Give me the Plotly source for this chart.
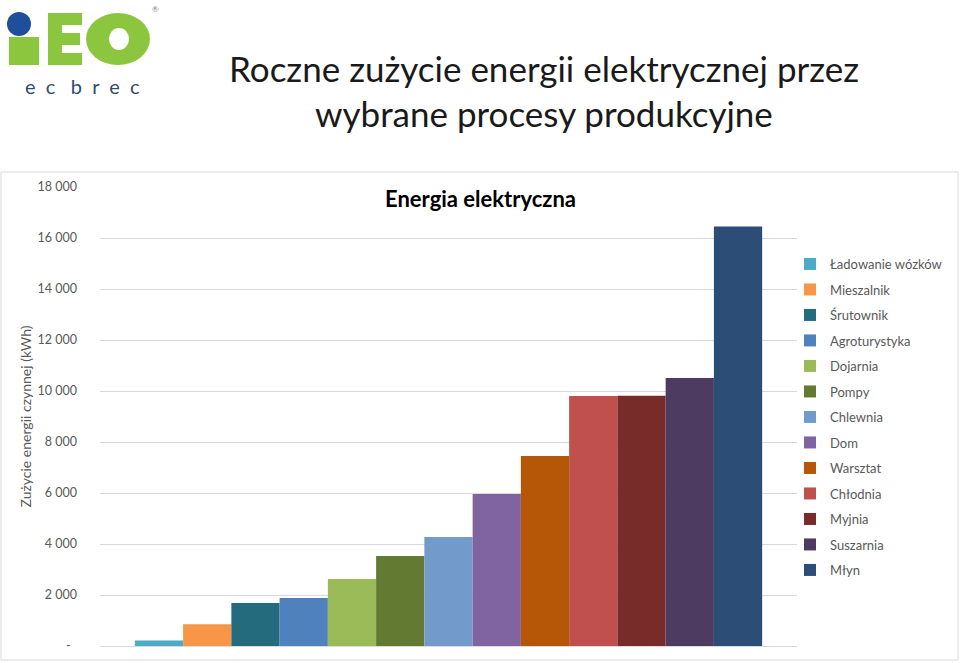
import plotly.graph_objects as go

categories = ["Ładowanie wózków", "Mieszalnik", "Śrutownik", "Agroturystyka", "Dojarnia",
              "Pompy", "Chlewnia", "Dom", "Warsztat", "Chłodnia", "Myjnia", "Suszarnia", "Młyn"]
values = [220, 850, 1690, 1880, 2630, 3530, 4270, 5960, 7450, 9800, 9810, 10510, 16450]
colors = ["#4bacc6", "#f79646", "#236b7d", "#4f81bd", "#9bbb59", "#627a31", "#729aca",
          "#8064a2", "#b65708", "#c0504d", "#772c2a", "#4d3b62", "#2c4d75"]
tick_vals = [0, 2000, 4000, 6000, 8000, 10000, 12000, 14000, 16000, 18000]
tick_text = ["-  ", "2 000", "4 000", "6 000", "8 000", "10 000", "12 000", "14 000", "16 000", "18 000"]

W, H = 960, 663
L, R, T, B = 100, 797, 187, 646
PW, PH = R - L, B - T

def px(x):
    return (x - L) / PW

def py(y):
    return (B - y) / PH

FONT = "Lato"
GRAY = "#595959"

fig = go.Figure()
for name, v, c in zip(categories, values, colors):
    fig.add_trace(go.Bar(x=[""], y=[v], name=name, marker=dict(color=c, line=dict(width=0)),
                         legendgroup=name))

shapes = []
# chart area border
shapes.append(dict(type="rect", xref="paper", yref="paper", x0=px(1), x1=px(958), y0=py(660), y1=py(172),
                   line=dict(color="#d9d9d9", width=1), fillcolor="rgba(0,0,0,0)", layer="below"))
# logo
GREEN = "#8cc63f"
BLUE = "#1f4e9a"
shapes.append(dict(type="circle", xref="paper", yref="paper", x0=px(7), x1=px(31), y0=py(36), y1=py(12),
                   fillcolor=BLUE, line=dict(width=0)))
for (x0, y0, x1, y1) in [(9, 37, 39, 65), (48, 13, 62, 65), (48, 13, 82, 25), (48, 33, 80, 45), (48, 53, 82, 65)]:
    shapes.append(dict(type="rect", xref="paper", yref="paper", x0=px(x0), x1=px(x1), y0=py(y1), y1=py(y0),
                       fillcolor=GREEN, line=dict(width=0)))
shapes.append(dict(type="circle", xref="paper", yref="paper", x0=px(86), x1=px(150), y0=py(65), y1=py(13),
                   fillcolor=GREEN, line=dict(width=0)))
shapes.append(dict(type="circle", xref="paper", yref="paper", x0=px(109), x1=px(129), y0=py(50), y1=py(28),
                   fillcolor="white", line=dict(width=0)))

annotations = [
    dict(text="e  c   b  r  e  c", x=px(82), y=py(86), xref="paper", yref="paper", showarrow=False,
         font=dict(family=FONT, size=20, color="#2f4b6e"), xanchor="center", yanchor="middle"),
    dict(text="®", x=px(155), y=py(9), xref="paper", yref="paper", showarrow=False,
         font=dict(family=FONT, size=8, color="#888"), xanchor="center", yanchor="middle"),
    dict(text="Roczne zużycie energii elektrycznej przez", x=px(544), y=py(68), xref="paper", yref="paper",
         showarrow=False, font=dict(family=FONT, size=35, color="#1a1a1a"), xanchor="center", yanchor="middle"),
    dict(text="wybrane procesy produkcyjne", x=px(544), y=py(113), xref="paper", yref="paper",
         showarrow=False, font=dict(family=FONT, size=35, color="#1a1a1a"), xanchor="center", yanchor="middle"),
    dict(text="<b>Energia elektryczna</b>", x=px(480), y=py(198), xref="paper", yref="paper",
         showarrow=False, font=dict(family=FONT, size=22, color="#000000"), xanchor="center", yanchor="middle"),
]

fig.update_layout(
    width=W, height=H,
    margin=dict(l=L, r=W - R, t=T, b=H - B, pad=0, autoexpand=False),
    paper_bgcolor="white", plot_bgcolor="white",
    barmode="group", bargap=0.1, bargroupgap=0,
    font=dict(family=FONT, color=GRAY),
    shapes=shapes, annotations=annotations,
    showlegend=True,
    legend=dict(x=px(790), y=py(249), xanchor="left", yanchor="top", tracegroupgap=5.6,
                font=dict(family=FONT, size=13, color=GRAY), bgcolor="rgba(0,0,0,0)"),
    xaxis=dict(showticklabels=False, showgrid=False, showline=True, linecolor="#d9d9d9", linewidth=1,
               ticks="", zeroline=False, fixedrange=True),
    yaxis=dict(range=[0, 18000], tickvals=tick_vals, ticktext=tick_text, showgrid=True, gridcolor="#d9d9d9",
               gridwidth=1, zeroline=True, zerolinecolor="#d9d9d9", zerolinewidth=1, showline=False,
               ticks="", ticklabelstandoff=22, tickfont=dict(family=FONT, size=12.5, color=GRAY),
               title=dict(text="Zużycie energii czynnej (kWh)", font=dict(family=FONT, size=14, color=GRAY),
                          standoff=2)),
)

fig.write_html("out.html")
